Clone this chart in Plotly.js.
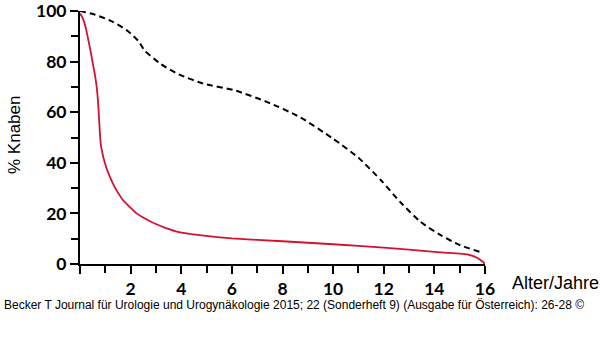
<!DOCTYPE html>
<html>
<head>
<meta charset="utf-8">
<script src="https://cdn.plot.ly/plotly-3.0.1.min.js"></script>
<style>
html,body{margin:0;padding:0;background:#fff;}
#chart{width:600px;height:355px;}
</style>
</head>
<body>
<div id="chart"></div>
<script>
// Age (years) and % boys – red solid curve
const redAge = [0, 0.08, 0.16, 0.24, 0.32, 0.4, 0.47, 0.53, 0.58, 0.62, 0.655, 0.685, 0.71, 0.73, 0.75, 0.77, 0.79, 0.81, 0.835, 0.87, 0.92, 0.98, 1.05, 1.15, 1.3, 1.5, 1.7, 2.0, 2.23, 2.6, 2.95, 3.4, 3.87, 4.4, 5.06, 6, 8, 10, 12, 14, 15.3, 15.7, 15.9, 16];
const redPct = [99, 97.8, 95.8, 92.8, 89, 85, 81.3, 78, 75.3, 72.8, 70.3, 67.5, 64.5, 61.5, 58, 54.5, 51.3, 48.6, 46.4, 44.6, 42.2, 40, 37.8, 35.2, 31.8, 28.2, 25.2, 22.2, 20, 17.8, 16, 14.2, 12.7, 11.8, 11, 10.1, 9, 7.8, 6.5, 4.8, 3.8, 2.4, 1.0, 0];

// Age (years) and % boys – black dashed curve
const blackAge = [0, 0.6, 1.24, 1.9, 2.3, 2.56, 3.2, 3.9, 4.9, 6.06, 7.4, 8.7, 10, 11, 11.9, 12.65, 13.45, 14.25, 15, 15.8];
const blackPct = [100, 98.5, 96, 92, 88.2, 84.3, 79, 75, 71.2, 68.8, 64, 58, 49.5, 42, 33, 24.5, 16.7, 11.4, 7.5, 4.8];

const xTickVals = [0, 2, 4, 6, 8, 10, 12, 14, 16];
const xTickText = ['', '2', '4', '6', '8', '10', '12', '14', '16'];
const yTickVals = [0, 20, 40, 60, 80, 100];

const yTitle = '% Knaben';
const xTitle = 'Alter/Jahre';
const caption = 'Becker T Journal für Urologie und Urogynäkologie 2015; 22 (Sonderheft 9) (Ausgabe für Österreich): 26-28 ©';

const W = 600, H = 355, L = 80, R = 115, T = 11, B = 91;
const px = x => (x - L) / (W - L - R);
const py = y => (H - B - y) / (H - T - B);

const traces = [
  {x: blackAge, y: blackPct, mode: 'lines', line: {color: '#000', width: 2, dash: '6px,4px', shape: 'spline', smoothing: 0.6}, hoverinfo: 'skip'},
  {x: redAge, y: redPct, mode: 'lines', line: {color: '#d4122f', width: 1.8, shape: 'spline', smoothing: 0.3}, hoverinfo: 'skip'}
];

const tickFont = {family: 'Lato, "Open Sans", sans-serif', size: 17.5, color: '#000', weight: 'bold'};

const layout = {
  width: W, height: H,
  margin: {l: L, r: R, t: T, b: B},
  paper_bgcolor: '#fff', plot_bgcolor: '#fff',
  showlegend: false,
  xaxis: {
    range: [0, 16], showgrid: false, zeroline: false,
    showline: true, linecolor: '#000', linewidth: 2,
    ticks: 'outside', ticklen: 8, tickwidth: 2, tickcolor: '#000',
    tickvals: xTickVals, ticktext: xTickText, tickfont: tickFont,
    ticklabeloverflow: 'allow',
    minor: {ticks: 'outside', ticklen: 7, tickwidth: 2, tickcolor: '#000', dtick: 1, tick0: 0, showgrid: false}
  },
  yaxis: {
    range: [0, 100], showgrid: false, zeroline: false,
    showline: true, linecolor: '#000', linewidth: 2,
    ticks: 'outside', ticklen: 8, tickwidth: 2, tickcolor: '#000',
    tickvals: yTickVals, tickfont: tickFont,
    ticklabeloverflow: 'allow',
    minor: {ticks: 'outside', ticklen: 7, tickwidth: 2, tickcolor: '#000', dtick: 10, tick0: 0, showgrid: false}
  },
  annotations: [
    {text: yTitle, xref: 'paper', yref: 'paper', x: px(14), y: py(135), textangle: -90, showarrow: false,
     xanchor: 'center', yanchor: 'middle', font: {family: '"Liberation Sans", Arial, sans-serif', size: 17, color: '#000'}},
    {text: xTitle, xref: 'paper', yref: 'paper', x: px(510), y: py(283), showarrow: false,
     xanchor: 'left', yanchor: 'middle', font: {family: '"Liberation Sans", Arial, sans-serif', size: 18, color: '#000'}},
    {text: caption, xref: 'paper', yref: 'paper', x: px(2), y: py(305), showarrow: false,
     xanchor: 'left', yanchor: 'middle', font: {family: '"Liberation Sans", Arial, sans-serif', size: 12, color: '#000'}}
  ]
};

Plotly.newPlot('chart', traces, layout, {displayModeBar: false, staticPlot: true});
</script>
</body>
</html>
